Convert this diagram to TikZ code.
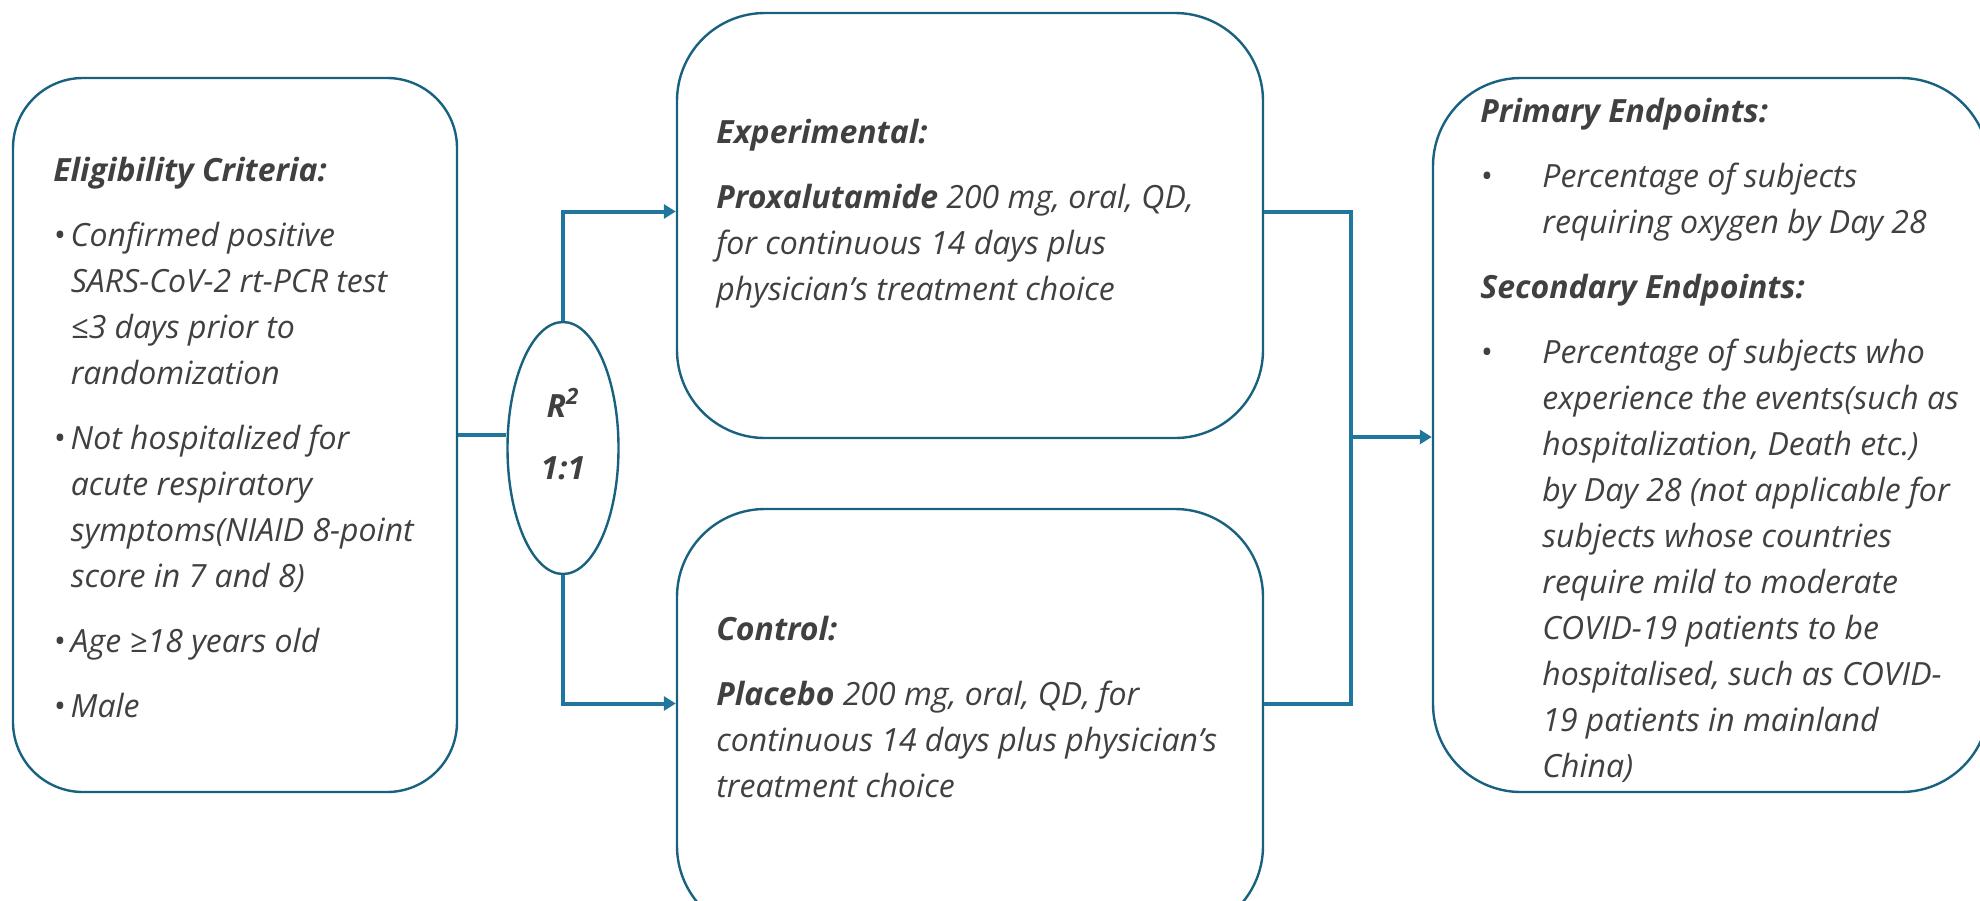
\documentclass[tikz,border=0pt]{standalone}
\usepackage{fontspec}
\setmainfont{Open Sans}
\usetikzlibrary{arrows.meta,shapes.geometric}

\definecolor{boxline}{RGB}{24,98,128}
\definecolor{flowline}{RGB}{33,118,158}
\definecolor{txtgray}{RGB}{64,64,64}

\tikzset{
  roundbox/.style={draw=boxline, line width=1.2pt, rounded corners=#1, inner sep=0pt},
  flow/.style={draw=flowline, line width=2pt},
  flowarrow/.style={flow, -{Triangle[length=6pt,width=7pt]}},
  bodytext/.style={anchor=base west, inner sep=0pt, align=left, text=txtgray,
    font=\itshape\fontsize{16}{23}\selectfont},
}
\newcommand{\blt}{\makebox[31pt][l]{\textbullet}}
\newcommand{\itm}{\textbullet\,}

\begin{document}
\begin{tikzpicture}[x=0.5pt,y=-0.5pt]
    \clip (0,0) rectangle (1980,900);

    % Boxes
    \node[roundbox=35pt, minimum width=222pt, minimum height=357pt] (elig) at (235,435) {};
    \node[roundbox=44pt, minimum width=293pt, minimum height=212.5pt] (exper) at (970,225.5) {};
    \node[roundbox=44pt, minimum width=293pt, minimum height=212.5pt] (ctrl) at (970,721.5) {};
    \node[roundbox=44pt, minimum width=278pt, minimum height=357pt] (endp) at (1711,435) {};
    \node[ellipse, draw=boxline, line width=1.2pt, minimum width=55.5pt, minimum height=126pt,
      inner sep=0pt] (rand) at (563,448) {};
    \node[text=txtgray, font=\bfseries\itshape\fontsize{16}{31}\selectfont, align=center]
      (randtxt) at ([yshift=7pt]rand.center) {R\textsuperscript{2}\\1:1};

    % Connectors
    \coordinate (merge) at (1351,437);
    \draw[flow] (elig.east) -- (elig.east -| rand.west);
    \draw[flowarrow] (rand.north) |- ([yshift=7pt]exper.west);
    \draw[flowarrow] (rand.south) |- ([yshift=9pt]ctrl.west);
    \draw[flow] ([yshift=7pt]exper.east) -| (merge) |- ([yshift=9pt]ctrl.east);
    \draw[flowarrow] (merge) -- (merge -| endp.west);

    % Eligibility (placed by the baseline of its last line)
    \node[bodytext] (eligtxt) at (53,717) {\textbf{Eligibility Criteria:}\\[9.5pt]
      \itm Confirmed positive\\
      \hphantom{\itm}SARS-CoV-2 rt-PCR test\\
      \hphantom{\itm}≤3 days prior to\\
      \hphantom{\itm}randomization\\[9.5pt]
      \itm Not hospitalized for\\
      \hphantom{\itm}acute respiratory\\
      \hphantom{\itm}symptoms(NIAID 8-point\\
      \hphantom{\itm}score in 7 and 8)\\[9.5pt]
      \itm Age ≥18 years old\\[9.5pt]
      \itm Male};

    % Arms
    \node[bodytext] (expertxt) at (716,300) {\textbf{Experimental:}\\[9.5pt]
      \textbf{Proxalutamide} 200 mg, oral, QD,\\
      for continuous 14 days plus\\
      physician’s treatment choice};
    \node[bodytext] (ctrltxt) at (716,797) {\textbf{Control:}\\[9.5pt]
      \textbf{Placebo} 200 mg, oral, QD, for\\
      continuous 14 days plus physician’s\\
      treatment choice};

    % Endpoints
    \node[bodytext] (endptxt) at (1480,777) {\textbf{Primary Endpoints:}\\[9.5pt]
      \blt Percentage of subjects\\
      \hphantom{\blt}requiring oxygen by Day 28\\[9.5pt]
      \textbf{Secondary Endpoints:}\\[9.5pt]
      \blt Percentage of subjects who\\
      \hphantom{\blt}experience the events(such as\\
      \hphantom{\blt}hospitalization, Death etc.)\\
      \hphantom{\blt}by Day 28 (not applicable for\\
      \hphantom{\blt}subjects whose countries\\
      \hphantom{\blt}require mild to moderate\\
      \hphantom{\blt}COVID-19 patients to be\\
      \hphantom{\blt}hospitalised, such as COVID-\\
      \hphantom{\blt}19 patients in mainland\\
      \hphantom{\blt}China)};
\end{tikzpicture}
\end{document}
